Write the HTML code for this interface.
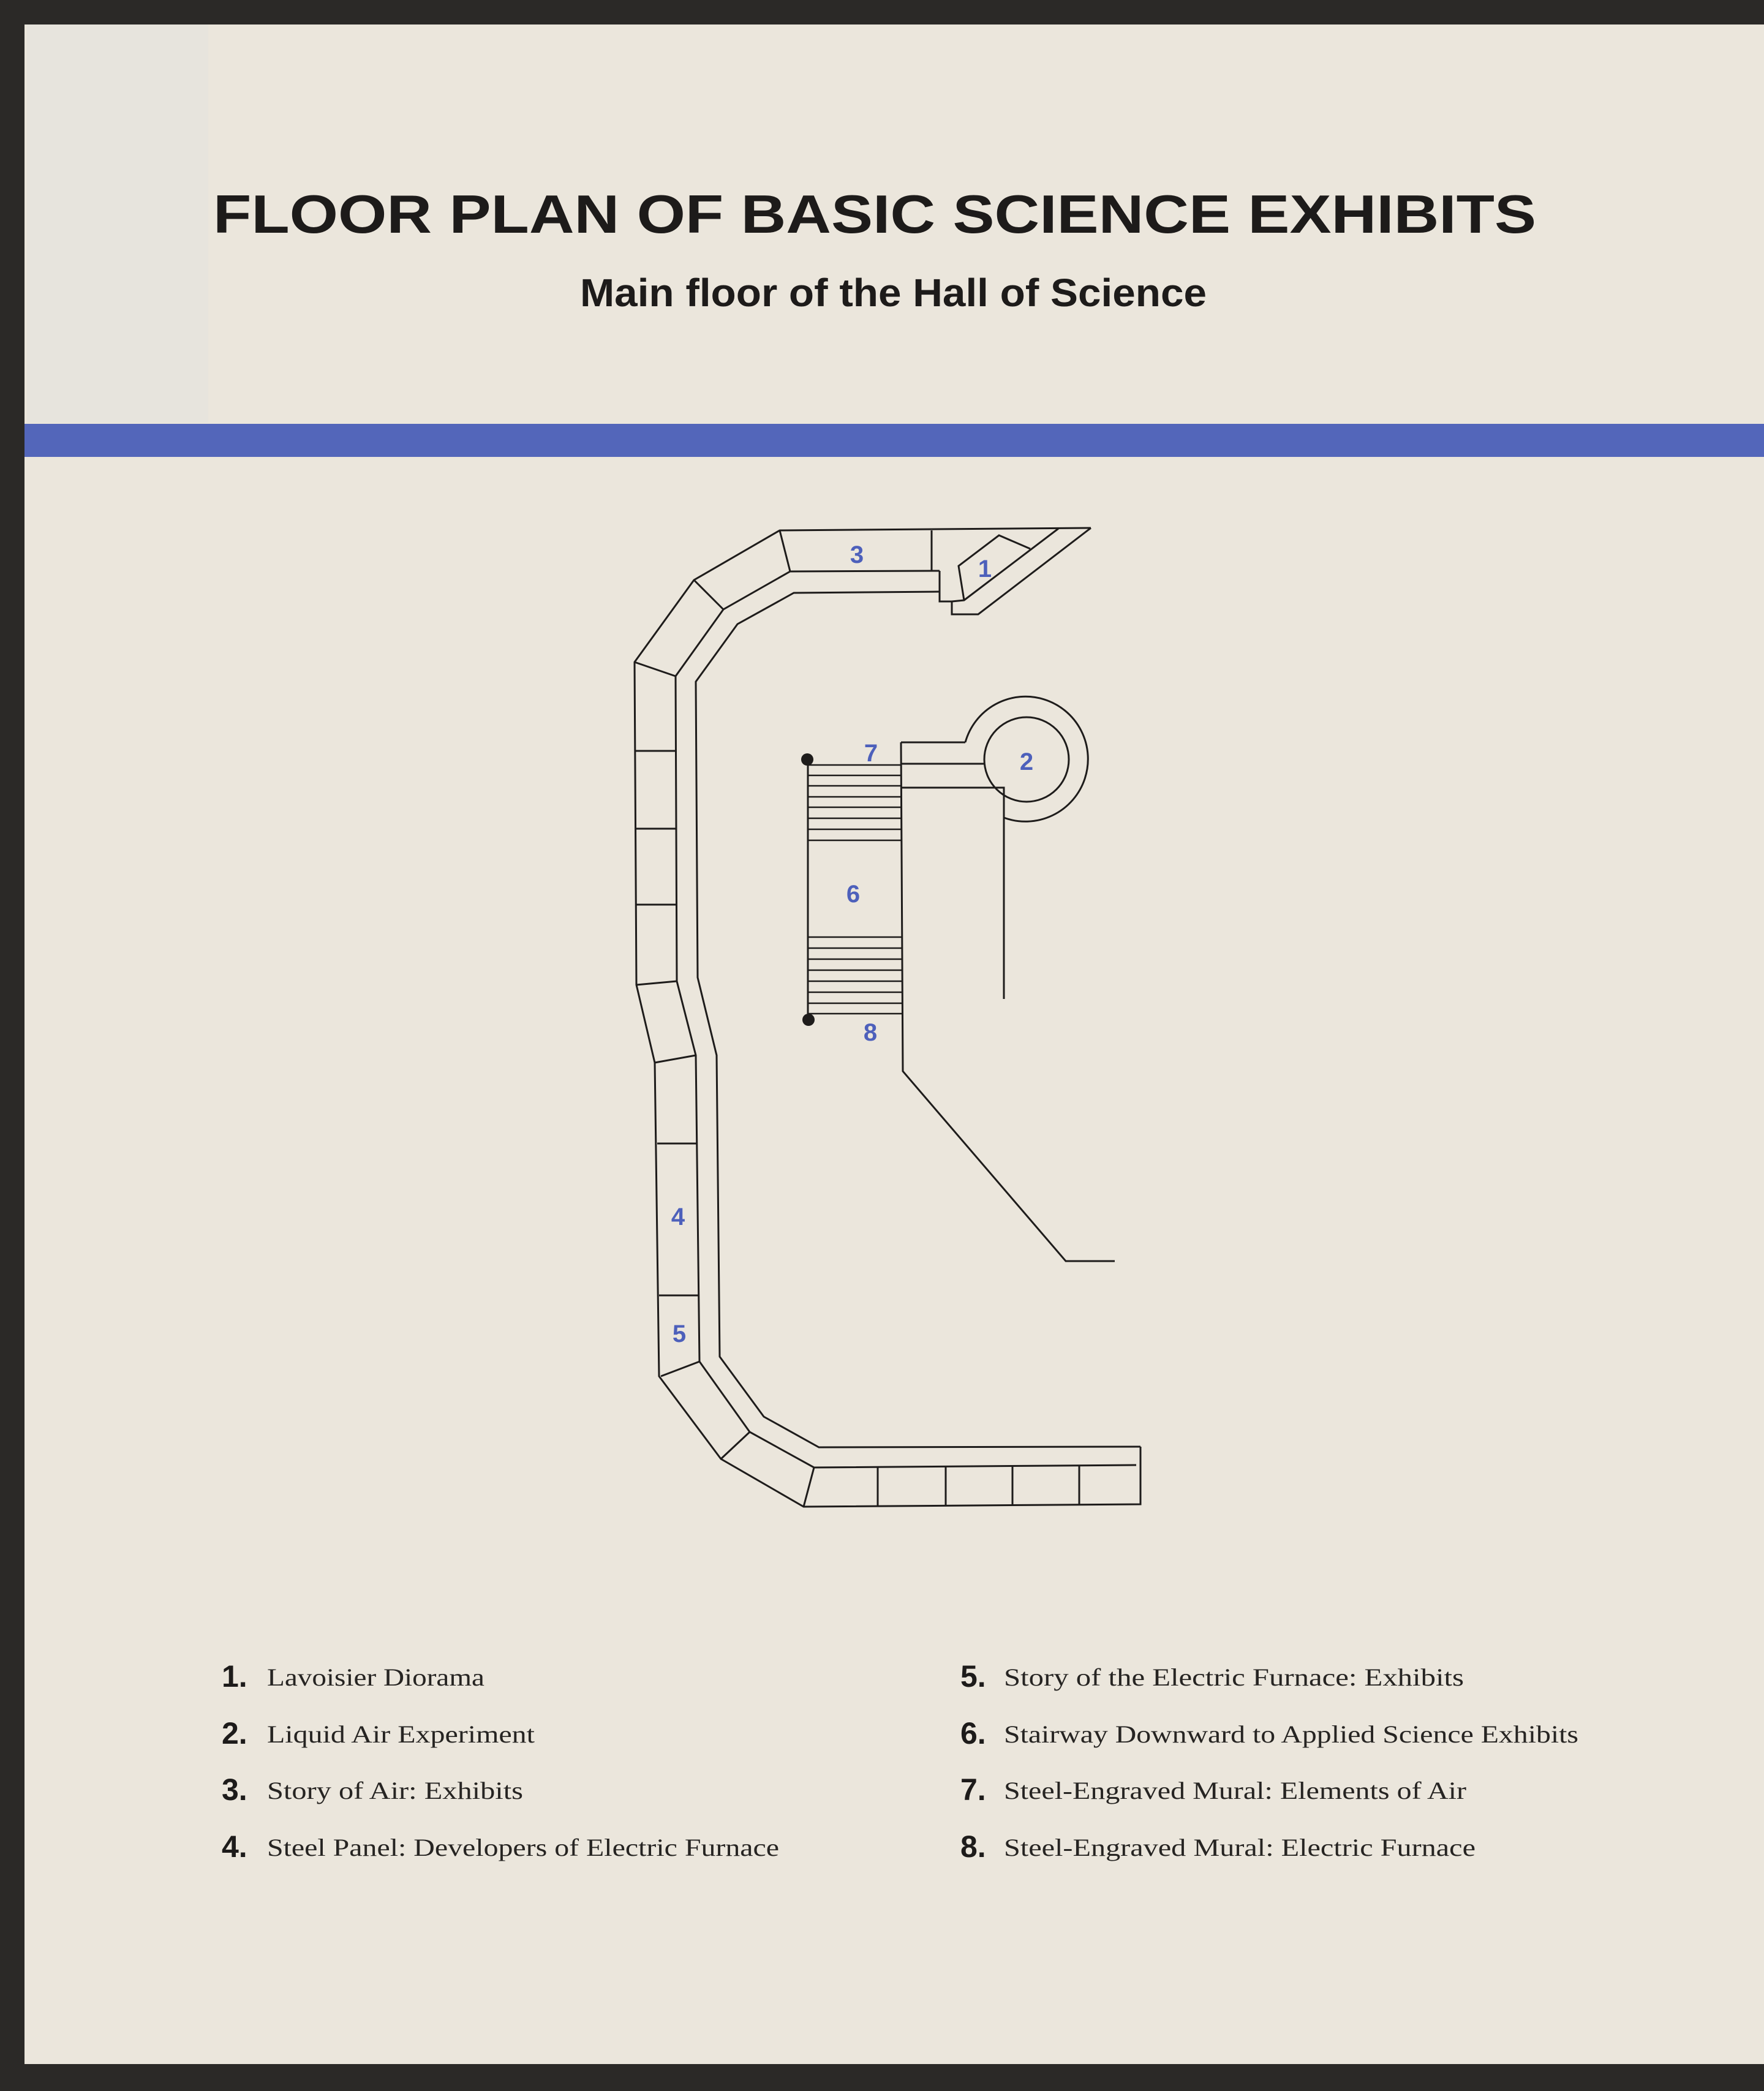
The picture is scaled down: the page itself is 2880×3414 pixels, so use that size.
<!DOCTYPE html>
<html><head><meta charset="utf-8"><style>
html,body{margin:0;padding:0;background:#2a2826}
svg{display:block}
</style></head><body>
<svg width="2880" height="3414" viewBox="0 0 2880 3414" xmlns="http://www.w3.org/2000/svg">
<rect width="2880" height="3414" fill="#2b2927"/>
<rect x="40" y="40" width="2840" height="3330" fill="#ebe6dc"/>
<rect x="44" y="40" width="296" height="650" fill="#e7e4dd"/>
<rect x="40" y="692" width="2840" height="54" fill="#5366ba"/>
<g font-family="'Liberation Sans',sans-serif" font-weight="bold" fill="#1d1b1a">
<text x="348" y="380" font-size="88" textLength="2160" lengthAdjust="spacingAndGlyphs">FLOOR PLAN OF BASIC SCIENCE EXHIBITS</text>
<text x="947" y="500" font-size="64" textLength="1023" lengthAdjust="spacingAndGlyphs">Main floor of the Hall of Science</text>
</g>
<g fill="none" stroke="#1e1c1b" stroke-width="3" stroke-linejoin="miter">
<polyline points="1781,862 1273,866 1133,947 1036,1081 1039,1608 1069,1735 1076,2247 1177,2382 1312,2460 1862,2456 1862,2362"/>
<polyline points="1534,932 1290,933 1181,995 1103,1104 1105,1602 1136,1723 1142,2223 1224,2338 1329,2396 1855,2392"/>
<polyline points="1534,966 1296,968 1204,1019 1136,1113 1139,1596 1170,1723 1175,2215 1247,2313 1337,2363 1862,2362"/>
<line x1="1273" y1="866" x2="1290" y2="933"/>
<line x1="1133" y1="947" x2="1181" y2="995"/>
<line x1="1036" y1="1081" x2="1103" y2="1104"/>
<line x1="1036" y1="1226" x2="1103" y2="1226"/>
<line x1="1037" y1="1353" x2="1105" y2="1353"/>
<line x1="1039" y1="1477" x2="1105" y2="1477"/>
<line x1="1039" y1="1608" x2="1105" y2="1602"/>
<line x1="1069" y1="1735" x2="1136" y2="1723"/>
<line x1="1073" y1="1867" x2="1138" y2="1867"/>
<line x1="1076" y1="2115" x2="1141" y2="2115"/>
<line x1="1079" y1="2247" x2="1142" y2="2223"/>
<line x1="1177" y1="2382" x2="1224" y2="2338"/>
<line x1="1312" y1="2460" x2="1329" y2="2396"/>
<line x1="1433" y1="2395" x2="1433" y2="2459"/>
<line x1="1544" y1="2394" x2="1544" y2="2458"/>
<line x1="1653" y1="2393" x2="1653" y2="2457"/>
<line x1="1762" y1="2392" x2="1762" y2="2457"/>
<line x1="1521" y1="866" x2="1521" y2="932"/>
<polyline points="1534,932 1534,982 1554,982 1554,1003 1597,1003 1781,862"/>
<polyline points="1554,982 1574,980 1728,863"/>
<polyline points="1574,980 1565,924 1631,874 1682,896"/>
<path d="M1576,1212 A102,102 0 1 1 1639,1335"/>
<circle cx="1676" cy="1240" r="69"/>
<polyline points="1471,1212 1576,1212"/>
<line x1="1471" y1="1247" x2="1607" y2="1247"/>
<polyline points="1471,1286 1639,1286 1639,1631"/>
<line x1="1319" y1="1240" x2="1319" y2="1665"/>
<polyline points="1471,1212 1474,1749 1740,2059 1820,2059"/>
<g stroke-width="2.5">
<line x1="1319" y1="1249" x2="1472" y2="1249"/>
<line x1="1319" y1="1266" x2="1472" y2="1266"/>
<line x1="1319" y1="1283" x2="1472" y2="1283"/>
<line x1="1319" y1="1301" x2="1472" y2="1301"/>
<line x1="1319" y1="1318" x2="1472" y2="1318"/>
<line x1="1319" y1="1336" x2="1472" y2="1336"/>
<line x1="1319" y1="1354" x2="1472" y2="1354"/>
<line x1="1319" y1="1372" x2="1472" y2="1372"/>
<line x1="1319" y1="1530" x2="1473" y2="1530"/>
<line x1="1319" y1="1548" x2="1473" y2="1548"/>
<line x1="1319" y1="1566" x2="1473" y2="1566"/>
<line x1="1319" y1="1584" x2="1473" y2="1584"/>
<line x1="1319" y1="1602" x2="1473" y2="1602"/>
<line x1="1319" y1="1620" x2="1473" y2="1620"/>
<line x1="1319" y1="1638" x2="1473" y2="1638"/>
<line x1="1319" y1="1655" x2="1473" y2="1655"/>
</g>
</g>
<circle cx="1318" cy="1240" r="10" fill="#1e1c1b"/>
<circle cx="1320" cy="1665" r="10" fill="#1e1c1b"/>
<g font-family="'Liberation Sans',sans-serif" font-weight="bold" fill="#4d60bb" font-size="40" text-anchor="middle">
<text x="1399" y="919">3</text>
<text x="1608" y="942">1</text>
<text x="1676" y="1257">2</text>
<text x="1422" y="1243">7</text>
<text x="1393" y="1473">6</text>
<text x="1421" y="1699">8</text>
<text x="1107" y="2000">4</text>
<text x="1109" y="2191">5</text>
</g>
<g font-family="'Liberation Sans',sans-serif" font-weight="bold" fill="#1d1b1a" font-size="50">
<text x="362" y="2754">1.</text>
<text x="362" y="2847">2.</text>
<text x="362" y="2939">3.</text>
<text x="362" y="3032">4.</text>
<text x="1568" y="2754">5.</text>
<text x="1568" y="2847">6.</text>
<text x="1568" y="2939">7.</text>
<text x="1568" y="3032">8.</text>
</g>
<g font-family="'Liberation Serif',serif" fill="#262422" font-size="40">
<text x="436" y="2752" textLength="355" lengthAdjust="spacingAndGlyphs">Lavoisier Diorama</text>
<text x="436" y="2845" textLength="437" lengthAdjust="spacingAndGlyphs">Liquid Air Experiment</text>
<text x="436" y="2937" textLength="418" lengthAdjust="spacingAndGlyphs">Story of Air: Exhibits</text>
<text x="436" y="3030" textLength="836" lengthAdjust="spacingAndGlyphs">Steel Panel: Developers of Electric Furnace</text>
<text x="1639" y="2752" textLength="751" lengthAdjust="spacingAndGlyphs">Story of the Electric Furnace: Exhibits</text>
<text x="1639" y="2845" textLength="938" lengthAdjust="spacingAndGlyphs">Stairway Downward to Applied Science Exhibits</text>
<text x="1639" y="2937" textLength="755" lengthAdjust="spacingAndGlyphs">Steel-Engraved Mural: Elements of Air</text>
<text x="1639" y="3030" textLength="770" lengthAdjust="spacingAndGlyphs">Steel-Engraved Mural: Electric Furnace</text>
</g>
</svg>
</body></html>
